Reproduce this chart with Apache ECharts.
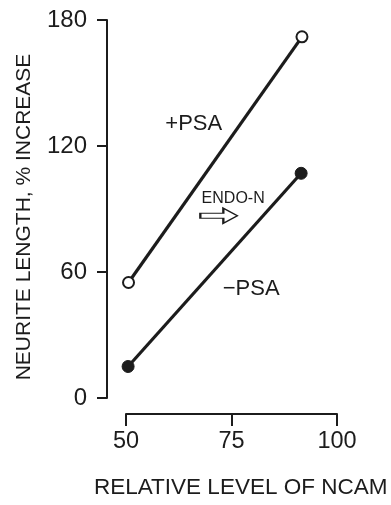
<!DOCTYPE html>
<html>
<head>
<meta charset="utf-8">
<script src="https://cdn.jsdelivr.net/npm/echarts@6/dist/echarts.min.js"></script>
<style>html,body{margin:0;padding:0;background:#fff}#c{width:391px;height:505px}</style>
</head>
<body>
<div id="c"></div>
<script>
// Data
const plusPsaX = [50.6, 91.7];
const plusPsaY = [55, 172];
const minusPsaX = [50.5, 91.5];
const minusPsaY = [15, 107];
const yTicks = [0, 60, 120, 180];
const xTicks = [50, 75, 100];
const seriesNames = ['+PSA', '\u2212PSA'];
const annotationText = 'ENDO-N';
const xTitle = 'RELATIVE LEVEL OF NCAM';
const yTitle = 'NEURITE LENGTH, % INCREASE';

const ink = '#1c1c1c';
const font = 'Liberation Sans, Arial, Helvetica, sans-serif';

const chart = echarts.init(document.getElementById('c'));
const pairs = (xs, ys) => xs.map((x, i) => [x, ys[i]]);

chart.setOption({
  animation: false,
  backgroundColor: '#fff',
  textStyle: { fontFamily: font, color: ink },
  title: {
    text: xTitle, left: 94, top: 476, padding: 0,
    textStyle: { fontFamily: font, fontSize: 22.5, fontWeight: 'normal', color: ink }
  },
  grid: [
    { left: 107, right: 54, top: 20, bottom: 107 },
    { left: 126, right: 54, top: 413, height: 1 }
  ],
  xAxis: [
    { gridIndex: 0, type: 'value', min: 45.5, max: 100, show: false },
    {
      gridIndex: 1, type: 'value', min: xTicks[0], max: xTicks[xTicks.length - 1], interval: 25,
      position: 'top',
      axisLine: { show: true, lineStyle: { color: ink, width: 2 } },
      axisTick: { show: true, inside: true, length: 12, lineStyle: { color: ink, width: 2 } },
      axisLabel: { show: true, inside: true, fontSize: 23.5, color: ink, margin: 17, fontFamily: font },
      splitLine: { show: false }
    }
  ],
  yAxis: [{
    gridIndex: 0, type: 'value', min: yTicks[0], max: yTicks[yTicks.length - 1], interval: 60,
    name: yTitle, nameLocation: 'middle', nameGap: 72, nameRotate: 90,
    nameTextStyle: { fontSize: 21, color: ink, fontFamily: font, padding: [0, 16, 0, 0] },
    axisLine: { show: true, lineStyle: { color: ink, width: 2 } },
    axisTick: { show: true, inside: false, length: 10, lineStyle: { color: ink, width: 2 } },
    axisLabel: { fontSize: 24, color: ink, margin: 20, fontFamily: font },
    splitLine: { show: false }
  }, {
    gridIndex: 1, type: 'value', min: 0, max: 1, show: false
  }],
  series: [
    {
      name: seriesNames[0], type: 'line', xAxisIndex: 0, yAxisIndex: 0,
      data: pairs(plusPsaX, plusPsaY),
      symbol: 'circle', symbolSize: 11,
      lineStyle: { color: ink, width: 3.2 },
      itemStyle: { color: '#fff', borderColor: ink, borderWidth: 2 },
      z: 3,
      markPoint: {
        symbol: 'circle', symbolSize: 1,
        itemStyle: { color: 'rgba(0,0,0,0)' },
        label: { show: true, position: 'right', distance: 0, fontSize: 22, color: ink, fontFamily: font,
                 formatter: p => p.name },
        data: [{ name: seriesNames[0], coord: [59.2, 130.5] }]
      }
    },
    {
      name: seriesNames[1], type: 'line', xAxisIndex: 0, yAxisIndex: 0,
      data: pairs(minusPsaX, minusPsaY),
      symbol: 'circle', symbolSize: 12,
      lineStyle: { color: ink, width: 3.2 },
      itemStyle: { color: ink, borderColor: ink, borderWidth: 1 },
      z: 3,
      markPoint: {
        data: [
          { name: seriesNames[1], coord: [72.8, 52], symbol: 'circle', symbolSize: 1,
            itemStyle: { color: 'rgba(0,0,0,0)' },
            label: { show: true, position: 'right', distance: 0, fontSize: 22, color: ink, fontFamily: font, formatter: p => p.name } },
          { name: annotationText, coord: [67.8, 95.0], symbol: 'circle', symbolSize: 1,
            itemStyle: { color: 'rgba(0,0,0,0)' },
            label: { show: true, position: 'right', distance: 0, fontSize: 16, color: ink, fontFamily: font, formatter: p => p.name } },
          { name: 'arrow', coord: [72.0, 86.8],
            symbol: 'path://M0,5 L23,5 L23,0 L37,7.5 L23,15 L23,10 L0,10 Z', symbolSize: [37, 15],
            symbolKeepAspect: false,
            itemStyle: { color: '#fff', borderColor: ink, borderWidth: 1.5 },
            label: { show: false } }
        ]
      }
    }
  ]
});
</script>
</body>
</html>
